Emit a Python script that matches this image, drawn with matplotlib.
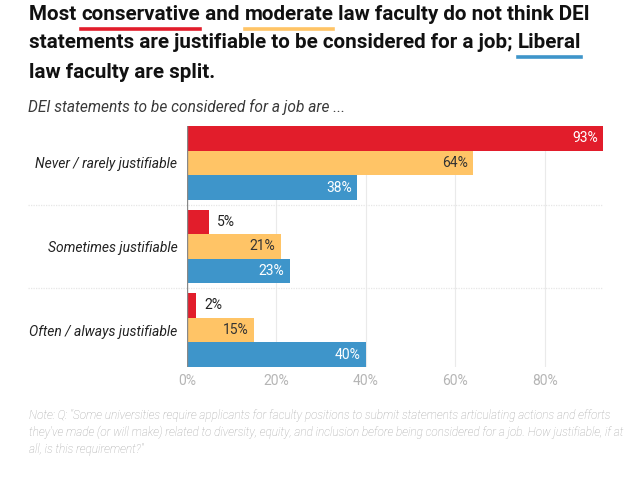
import matplotlib
matplotlib.use('Agg')
import matplotlib.pyplot as plt
import matplotlib.transforms as mtransforms
import numpy as np

plt.rcParams['font.family'] = ['Roboto', 'DejaVu Sans']

categories = ['Never / rarely justifiable', 'Sometimes justifiable', 'Often / always justifiable']
conservative = [93, 5, 2]
moderate = [64, 21, 15]
liberal = [38, 23, 40]
xticks = [0, 20, 40, 60, 80]

RED = '#e21d2b'
YELLOW = '#ffc466'
BLUE = '#3e95ca'

fig = plt.figure(figsize=(6.37, 4.80), dpi=100)
ax = fig.add_axes([187/637, 1-367/480, 416/637, 241/480])

y = np.arange(len(categories))
h = 0.295
series = [(conservative, RED, -h, 'white'), (moderate, YELLOW, 0, '#333333'), (liberal, BLUE, h, 'white')]
for vals, col, off, tcol in series:
    ax.barh(y + off, vals, height=h, color=col, zorder=2)
    for yi, v in zip(y, vals):
        if v >= 10:
            ax.text(v - 1.2, yi + off, f'{v}%', ha='right', va='center', color=tcol,
                    fontsize=10, zorder=3)
        else:
            ax.text(v + 1.8, yi + off, f'{v}%', ha='left', va='center', color='#222222',
                    fontsize=10, zorder=3)

ax.set_xlim(0, 93)
ax.set_ylim(2.443, -0.443)
for s in ax.spines.values():
    s.set_visible(False)
ax.axvline(0, color='#888888', lw=1, zorder=4)
for t in xticks[1:]:
    ax.axvline(t, color='#eaeaea', lw=0.8, zorder=1)
trans = mtransforms.blended_transform_factory(ax.transAxes, ax.transData)
for sep in [0.5, 1.5]:
    ax.plot([(28-187)/416, 1], [sep, sep], color='#e6e6e6', lw=0.9, ls=(0, (1, 1)),
            transform=trans, clip_on=False)
ax.set_xticks(xticks)
ax.set_xticklabels([f'{t}%' for t in xticks], color='#b5b5b5', fontsize=10)
ax.tick_params(axis='x', length=0, pad=5)
ax.set_yticks(y)
ax.set_yticklabels(categories, fontstyle='italic', fontsize=10, color='#222222')
ax.tick_params(axis='y', length=0, pad=7)

# title with coloured underlines
renderer = fig.canvas.get_renderer()
title_lines = [
    [('Most ', None), ('conservative', RED), (' and ', None), ('moderate', YELLOW),
     (' law faculty do not think DEI', None)],
    [('statements are justifiable to be considered for a job; ', None), ('Liberal', BLUE)],
    [('law faculty are split.', None)],
]
line_y = [15, 43, 72]
tsize = 14.85
for parts, yy in zip(title_lines, line_y):
    x = 29
    for txt, col in parts:
        t = fig.text(x/637, 1-yy/480, txt, fontsize=tsize, fontweight='bold',
                     color='#111111', ha='left', va='center')
        bb = t.get_window_extent(renderer)
        if col is not None:
            fig.add_artist(plt.Line2D([bb.x0/637, bb.x1/637], [1-(yy+13.5)/480]*2,
                                      color=col, lw=2.6))
        x = bb.x1

fig.text(28/637, 1-107/480, 'DEI statements to be considered for a job are ...',
         fontsize=11.2, fontstyle='italic', color='#3a3a3a',
         ha='left', va='center')

note = ('Note: Q: "Some universities require applicants for faculty positions to submit statements articulating actions and efforts\n'
        'they\'ve made (or will make) related to diversity, equity, and inclusion before being considered for a job. How justifiable, if at\n'
        'all, is this requirement?"')
fig.text(29/637, 1-409/480, note, fontsize=8.45, fontstyle='italic', fontweight='light',
         color='#a5a5a5', ha='left', va='top', linespacing=1.4)

fig.savefig('out.png', dpi=100)
